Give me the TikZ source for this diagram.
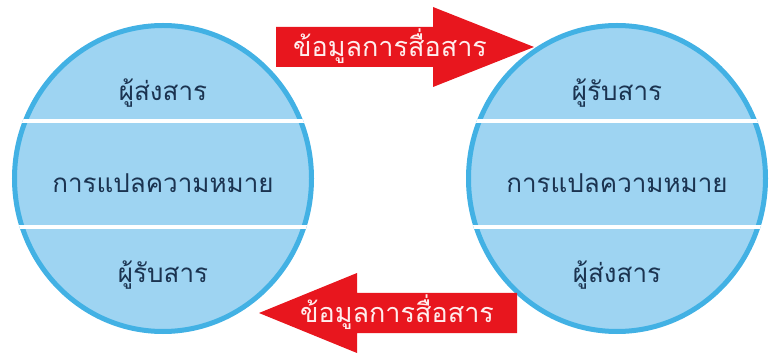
\documentclass[tikz,border=0pt]{standalone}
\usepackage{fontspec}
\newfontfamily\thaifont[Script=Thai]{Loma}
\usetikzlibrary{shapes.geometric}
\definecolor{ovalfill}{HTML}{9ED4F2}
\definecolor{ovaledge}{HTML}{42B1E4}
\definecolor{inkblue}{HTML}{1B3350}
\definecolor{msgred}{HTML}{E8161E}
\definecolor{msgtext}{HTML}{FFEDED}
\tikzset{
  oval/.style={ellipse,draw=ovaledge,fill=ovalfill,line width=5pt,
    minimum width=297pt,minimum height=306pt,inner sep=0pt},
  divider/.style={white,line width=4pt},
  part/.style={font=\thaifont\fontsize{26}{30}\selectfont,text=inkblue,anchor=base,inner sep=0pt},
  msg/.style={font=\thaifont\fontsize{27}{30}\selectfont,text=msgtext,anchor=base,inner sep=0pt}
}
\begin{document}
\begin{tikzpicture}[x=1pt,y=-1pt]
\useasboundingbox (0,0) rectangle (771,355);
% two ovals
\node[oval] (leftoval) at (163,178.5) {};
\node[oval] (rightoval) at (617,178.5) {};
\begin{scope}
\clip (leftoval.center) ellipse [x radius=151,y radius=155.5];
\draw[divider] (0,121) -- (330,121);
\draw[divider] (0,227) -- (330,227);
\end{scope}
\begin{scope}
\clip (rightoval.center) ellipse [x radius=151,y radius=155.5];
\draw[divider] (450,121) -- (771,121);
\draw[divider] (450,227) -- (771,227);
\end{scope}
% texts in the ovals
\node[part] (lsend) at (163,101) {ผู้ส่งสาร};
\node[part] (lmean) at (163,193) {การแปลความหมาย};
\node[part] (lrecv) at (163,283) {ผู้รับสาร};
\node[part] (rrecv) at (617,101) {ผู้รับสาร};
\node[part] (rmean) at (617,193) {การแปลความหมาย};
\node[part] (rsend) at (617,283) {ผู้ส่งสาร};
% red arrows
\fill[msgred] (276,27) -- (433,27) -- (433,7) -- (534,47) -- (433,87) -- (433,67) -- (276,67) -- cycle;
\fill[msgred] (517,293) -- (357,293) -- (357,273) -- (259,313) -- (357,353) -- (357,333) -- (517,333) -- cycle;
\node[msg] (msgtop) at (390,57) {ข้อมูลการสื่อสาร};
\node[msg] (msgbottom) at (397,323) {ข้อมูลการสื่อสาร};
\end{tikzpicture}
\end{document}
